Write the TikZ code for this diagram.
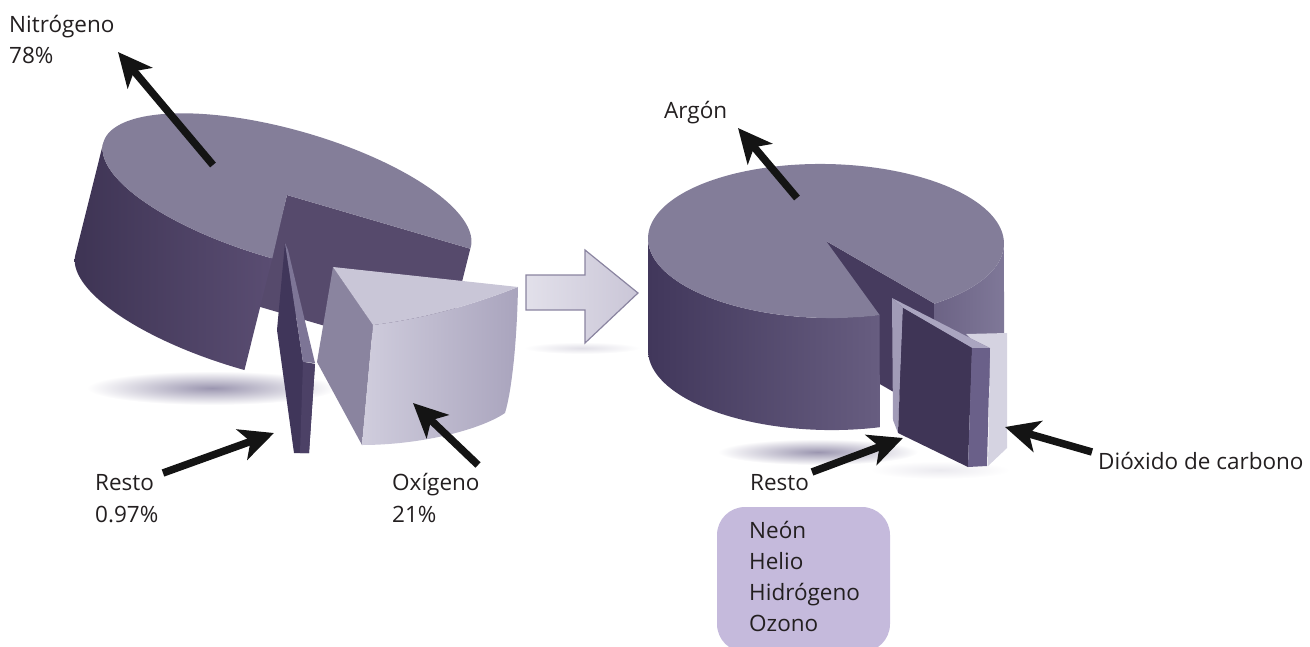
\documentclass[tikz,border=0pt]{standalone}
\usepackage{fontspec}
\setmainfont{Open Sans}
\usetikzlibrary{arrows.meta}
\definecolor{pieTop}{HTML}{847E99}
\definecolor{wallL}{HTML}{3E3454}
\definecolor{wallR}{HTML}{5A4D72}
\definecolor{innerA}{HTML}{564A6C}
\definecolor{oxTop}{HTML}{C9C6D7}
\definecolor{oxLeft}{HTML}{8A849F}
\definecolor{oxWallL}{HTML}{D0CDDD}
\definecolor{oxWallR}{HTML}{A9A4BD}
\definecolor{slDark}{HTML}{40365A}
\definecolor{slLight}{HTML}{7D7596}
\definecolor{slRight}{HTML}{4C4166}
\definecolor{rpTop}{HTML}{837D99}
\definecolor{rpWallL}{HTML}{41375B}
\definecolor{rpWallR}{HTML}{675D80}
\definecolor{rpInner}{HTML}{463B5E}
\definecolor{rpRWallL}{HTML}{6C6385}
\definecolor{rpRWallR}{HTML}{7F7898}
\definecolor{coTwo}{HTML}{D5D3E1}
\definecolor{restoStrip}{HTML}{A19BB7}
\definecolor{restoTop}{HTML}{AAA5C0}
\definecolor{restoFront}{HTML}{3F3556}
\definecolor{restoSide}{HTML}{6A6089}
\definecolor{boxFill}{HTML}{C5BADC}
\definecolor{txt}{HTML}{231F20}
\definecolor{shadowC}{HTML}{9B96B0}
\definecolor{arrowEdge}{HTML}{8A84A0}
\definecolor{arrL}{HTML}{E2E0EA}
\definecolor{arrM}{HTML}{B3ADC5}
\definecolor{arrR}{HTML}{CAC6D7}
\begin{document}
\begin{tikzpicture}[x=1pt,y=-1pt,
  lbl/.style={anchor=base west, inner sep=0pt, text=txt, font=\fontsize{22.5}{31}\selectfont},
  pointer/.style={line width=7.5pt, draw=black!92, -{Stealth[length=34pt,width=32pt,inset=9pt]}},
  softshadow/.style={inner color=shadowC, outer color=white},
  blockarrow/.style={draw=arrowEdge, line width=1.2pt, left color=arrL, middle color=arrM, right color=arrR}]
\useasboundingbox (0,0) rectangle (1310,646);
\clip (0,0) rectangle (1310,646);

% shadows
\shade[softshadow] (212,388) ellipse [x radius=125, y radius=17];
\shade[softshadow] (818,452) ellipse [x radius=100, y radius=13];
\shade[inner color=white!80!shadowC, outer color=white] (940,470) ellipse [x radius=70, y radius=9];
\shade[inner color=white!70!shadowC, outer color=white] (582,348) ellipse [x radius=58, y radius=6];

% ---------- left pie (Nitrogeno) ----------
\begin{scope}[shift={(287,195)}, rotate=-16]
  \fill[innerA] (0,0) -- ({191*cos(1)},{65*sin(1)}) -- ({4+191*cos(1)},{115+65*sin(1)}) -- (4,115) -- cycle;
  \shade[left color=wallL, right color=wallR] (-191,0)
    -- plot[domain=180:89,samples=60,variable=\t] ({191*cos(\t)},{65*sin(\t)})
    -- plot[domain=89:180,samples=60,variable=\t] ({4+191*cos(\t)},{115+65*sin(\t)}) -- cycle;
  \fill[pieTop] (0,0) -- plot[domain=89:361,samples=140,variable=\t] ({191*cos(\t)},{65*sin(\t)}) -- cycle;
\end{scope}

% oxygen slice
\fill[oxLeft] (333,267) -- (373,325) -- (362,445) -- (317,362) -- cycle;
\shade[left color=oxWallL, right color=oxWallR] (373,325) .. controls (430,318) and (480,302) .. (518,287)
  .. controls (517,340) and (512,390) .. (505,413)
  .. controls (480,430) and (420,445) .. (362,445) -- cycle;
\fill[oxTop] (333,267) -- (373,325) .. controls (430,318) and (480,302) .. (518,287) -- cycle;

% resto sliver (left)
\fill[slDark] (285,243) -- (277,330) -- (294,453) -- (309,453) -- (315,364) -- (303,362) -- cycle;
\fill[slLight] (285,243) -- (303,362) -- (315,363) -- (288,250) -- cycle;
\fill[slRight] (303,362) -- (315,364) -- (309,453) -- (300,453) -- cycle;

% ---------- block arrow ----------
\draw[blockarrow] (526,275) -- (585,275) -- (585,250) -- (638,293) -- (585,343) -- (585,310) -- (526,310) -- cycle;

% ---------- right pie ----------
\begin{scope}[shift={(826,241)}, rotate=-1]
  \fill[rpInner] (0,0) -- ({178*cos(52)},{77*sin(52)}) -- ({2+178*cos(52)},{112+77*sin(52)}) -- (2,112) -- cycle;
  \shade[left color=rpWallL, right color=rpWallR] (-178,0)
    -- plot[domain=180:72,samples=60,variable=\t] ({178*cos(\t)},{77*sin(\t)})
    -- plot[domain=72:180,samples=60,variable=\t] ({2+178*cos(\t)},{112+77*sin(\t)}) -- cycle;
  \shade[left color=rpRWallL, right color=rpRWallR] ({178*cos(52)},{77*sin(52)})
    -- plot[domain=52:0,samples=40,variable=\t] ({178*cos(\t)},{77*sin(\t)})
    -- plot[domain=0:52,samples=40,variable=\t] ({2+178*cos(\t)},{112+77*sin(\t)}) -- cycle;
  \fill[rpTop] (0,0) -- plot[domain=72:412,samples=160,variable=\t] ({178*cos(\t)},{77*sin(\t)}) -- cycle;
\end{scope}

% CO2 and resto pieces (right)
\fill[coTwo] (966,334) -- (1007,333) -- (1007,448) -- (988,466) -- (990,348) -- (970,338) -- cycle;
\fill[restoStrip] (892,298) -- (903,308) -- (898,433) -- (893,420) -- cycle;
\fill[restoTop] (892,298) -- (970,338) -- (990,348) -- (972,348) -- (903,308) -- cycle;
\fill[restoFront] (903,308) -- (972,348) -- (968,467) -- (898,433) -- cycle;
\fill[restoSide] (972,348) -- (990,348) -- (987,466) -- (968,467) -- cycle;

% ---------- labels ----------
\node[lbl] (nitro) at (9,32) {Nitrógeno};
\node[lbl] (nitroP) at (9,63) {78\%};
\node[lbl] (argon) at (664,118) {Argón};
\node[lbl] (restoL) at (95,490) {Resto};
\node[lbl] (restoLP) at (95,522) {0.97\%};
\node[lbl] (oxi) at (392,490) {Oxígeno};
\node[lbl] (oxiP) at (392,522) {21\%};
\node[lbl] (restoR) at (750,490) {Resto};
\node[lbl] (co2) at (1098,469) {Dióxido de carbono};

\fill[boxFill, rounded corners=28pt] (717,507) rectangle (890,652);
\node[lbl] (neon) at (749,538) {Neón};
\node[lbl] (helio) at (749,569) {Helio};
\node[lbl] (hidro) at (749,600) {Hidrógeno};
\node[lbl] (ozono) at (749,631) {Ozono};

% ---------- pointer arrows ----------
\coordinate (nT) at (213,165); \coordinate (nH) at (118,52);
\coordinate (rlT) at (163,473); \coordinate (rlH) at (274,433);
\coordinate (oT) at (478,465); \coordinate (oH) at (413,403);
\coordinate (aT) at (797,198); \coordinate (aH) at (738,128);
\coordinate (rrT) at (812,472); \coordinate (rrH) at (903,438);
\coordinate (cT) at (1092,452); \coordinate (cH) at (1005,427);
\draw[pointer] (nT) -- (nH);
\draw[pointer] (rlT) -- (rlH);
\draw[pointer] (oT) -- (oH);
\draw[pointer] (aT) -- (aH);
\draw[pointer] (rrT) -- (rrH);
\draw[pointer] (cT) -- (cH);
\end{tikzpicture}
\end{document}
